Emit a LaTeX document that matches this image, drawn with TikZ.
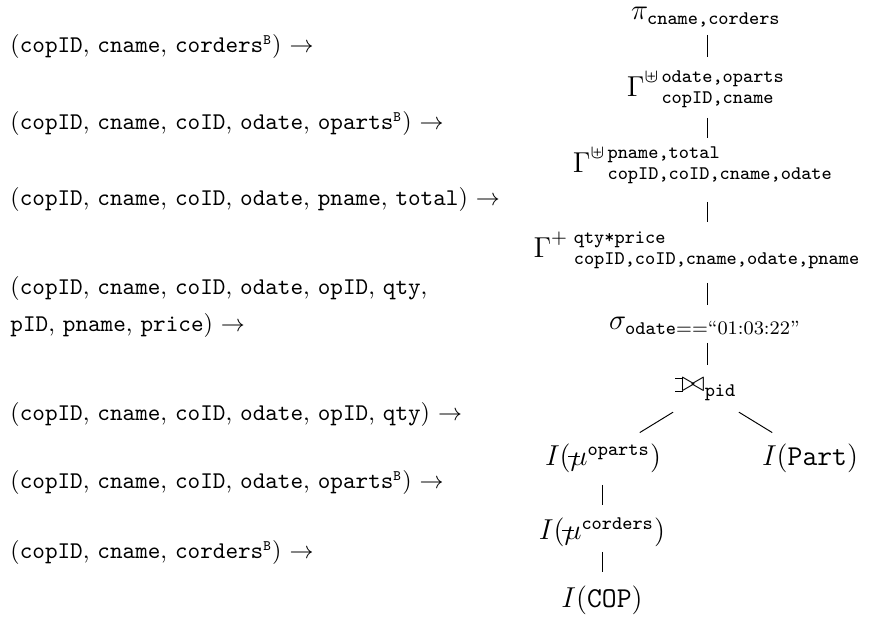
\documentclass[tikz,border=0pt]{standalone}
\usepackage{amsmath,amssymb}
\usetikzlibrary{calc}

% left outer join: bowtie with two short bars on its left side
\newcommand{\ojoinbars}{\setbox0=\hbox{$\bowtie$}\rule[-.02ex]{.25em}{.4pt}\llap{\rule[\ht0]{.25em}{.4pt}}}
\newcommand{\lojoin}{\mathbin{\ojoinbars\mkern-5.8mu\bowtie}}
% unnest operator: mu with a stroke
\newcommand{\unnest}{\mathord{\rlap{\kern-0.08em\rule[0.3em]{0.42em}{0.4pt}}\mu}}
\newcommand{\tta}[1]{\text{\ttfamily #1}}
\newcommand{\bagsup}{\textsuperscript{\fontsize{6}{7}\selectfont\ttfamily B}}

\tikzset{
  tnode/.style={font=\fontsize{12}{14.5}\selectfont, inner sep=0pt, anchor=base},
  lrow/.style={font=\fontsize{10}{12}\selectfont, inner sep=0pt, anchor=base west},
  edge/.style={line width=0.4pt}
}

\begin{document}
\begin{tikzpicture}[x=0.41667pt, y=-0.41667pt]
\useasboundingbox (0,0) rectangle (875,622);

% schemas along the plan
\node[lrow] (r1) at (10,53) {(\texttt{copID}, \texttt{cname}, \texttt{corders}\bagsup) $\rightarrow$};
\node[lrow] (r2) at (10,130) {(\texttt{copID}, \texttt{cname}, \texttt{coID}, \texttt{odate}, \texttt{oparts}\bagsup) $\rightarrow$};
\node[lrow] (r3) at (10,206) {(\texttt{copID}, \texttt{cname}, \texttt{coID}, \texttt{odate}, \texttt{pname}, \texttt{total}) $\rightarrow$};
\node[lrow] (r4a) at (10,295) {(\texttt{copID}, \texttt{cname}, \texttt{coID}, \texttt{odate}, \texttt{opID}, \texttt{qty},};
\node[lrow] (r4b) at (10,332) {\texttt{pID}, \texttt{pname}, \texttt{price}) $\rightarrow$};
\node[lrow] (r5) at (10,421) {(\texttt{copID}, \texttt{cname}, \texttt{coID}, \texttt{odate}, \texttt{opID}, \texttt{qty}) $\rightarrow$};
\node[lrow] (r6) at (10,489) {(\texttt{copID}, \texttt{cname}, \texttt{coID}, \texttt{odate}, \texttt{oparts}\bagsup) $\rightarrow$};
\node[lrow] (r7) at (10,559) {(\texttt{copID}, \texttt{cname}, \texttt{corders}\bagsup) $\rightarrow$};

% operator tree
\node[tnode] (pi) at (706,20) {$\pi_{\tta{cname,corders}}$};
\node[tnode] (g1) at (706,97) {$\Gamma^{\uplus\,\tta{odate,oparts}}_{\hphantom{\uplus\,}\tta{copID,cname}}$};
\node[tnode] (g2) at (703,173) {$\Gamma^{\uplus\,\tta{pname,total}}_{\hphantom{\uplus\,}\tta{copID,coID,cname,odate}}$};
\node[tnode] (g3) at (697,258) {$\Gamma^{+\mkern6mu\tta{qty*price}}_{\hphantom{+\mkern6mu}\tta{copID,coID,cname,odate,pname}}$};
\node[tnode] (sig) at (705,330) {$\sigma_{\tta{odate}==\text{``01:03:22''}}$};
\node[tnode] (join) at (706,392) {$\lojoin_{\tta{pid}}$};
\node[tnode] (mu1) at (603,466) {$I(\unnest^{\tta{oparts}})$};
\node[tnode] (part) at (810,466) {$I(\text{\ttfamily Part})$};
\node[tnode] (mu2) at (602,540) {$I(\unnest^{\tta{corders}})$};
\node[tnode] (cop) at (602,608) {$I(\text{\ttfamily COP})$};

% tree edges
\coordinate (trunk) at (707.5,0);
\draw[edge] (trunk |- pi.base) ++(0,15) -- ++(0,22);
\draw[edge] (trunk |- g1.base) ++(0,21) -- ++(0,20);
\draw[edge] (trunk |- g2.base) ++(0,29) -- ++(0,20);
\draw[edge] (trunk |- g3.base) ++(0,25) -- ++(0,22);
\draw[edge] (trunk |- sig.base) ++(0,13) -- ++(0,22);
\draw[edge] (join.base) ++(148.5:38.6) -- ++(148.5:39.1);
\draw[edge] (join.base) ++(31.5:38.6) -- ++(31.5:39.1);
\draw[edge] (mu1.base) ++(-1,19) -- ++(0,20);
\draw[edge] (mu2.base) ++(0,12) -- ++(0,20);
\end{tikzpicture}
\end{document}
